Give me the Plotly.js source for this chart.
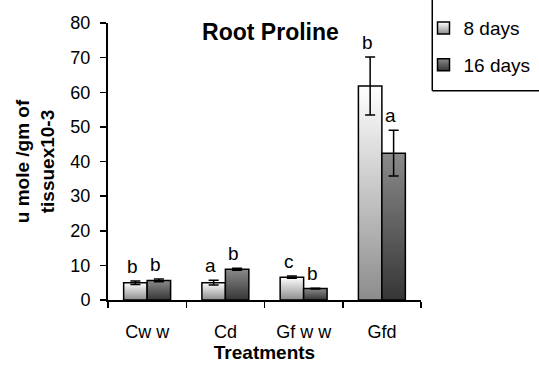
<!DOCTYPE html>
<html>
<head>
<meta charset="utf-8">
<script src="https://cdn.plot.ly/plotly-3.0.1.min.js"></script>
<style>html,body{margin:0;padding:0;background:#fff}#chart{width:539px;height:366px}</style>
</head>
<body>
<div id="chart"></div>
<script>
const categories = ["Cw w", "Cd", "Gf w w", "Gfd"];
const days8 = [5.0, 5.0, 6.6, 61.8];
const days8Err = [0.5, 0.7, 0.3, 8.4];
const days16 = [5.65, 8.9, 3.3, 42.4];
const days16Err = [0.4, 0.3, 0.1, 6.6];
const letters8 = ["b", "a", "c", "b"];
const letters16 = ["b", "b", "b", "a"];
const seriesNames = ["8 days", "16 days"];

const FONT = "Arial, 'Liberation Sans', sans-serif";

const traces = [
  {type: "bar", name: seriesNames[0], x: categories, y: days8, legendgroup: "g1",
   marker: {color: "#d0d0d0", line: {color: "#000", width: 1.5}},
   error_y: {type: "data", array: days8Err, visible: true, color: "#000", thickness: 1.5, width: 5}},
  {type: "bar", name: seriesNames[1], x: categories, y: days16, legendgroup: "g2",
   marker: {color: "#5a5a5a", line: {color: "#000", width: 1.5}},
   error_y: {type: "data", array: days16Err, visible: true, color: "#000", thickness: 1.5, width: 5}}
];

const annotations = [];
[[days8, days8Err, letters8, -14.5], [days16, days16Err, letters16, 8.5]].forEach(([v, e, l, xs]) => {
  categories.forEach((c, j) => {
    annotations.push({x: c, y: v[j] + e[j], xref: "x", yref: "y", text: l[j], showarrow: false,
      xshift: xs, yshift: 2, yanchor: "bottom", font: {family: FONT, size: 19, color: "#000"}});
  });
});

const layout = {
  width: 539, height: 366,
  margin: {l: 108, r: 118, t: 23, b: 66, autoexpand: false},
  paper_bgcolor: "#fff", plot_bgcolor: "#fff",
  barmode: "group", bargap: 0.4, bargroupgap: 0,
  title: {text: "<b>Root Proline</b>", font: {family: FONT, size: 23, color: "#000"},
          xref: "paper", x: 0.519, xanchor: "center", yref: "container", y: 0.912, yanchor: "middle"},
  xaxis: {type: "category", showline: true, linecolor: "#000", linewidth: 2, ticks: "outside",
          tickson: "boundaries", ticklen: 6, tickwidth: 1.5, tickcolor: "#000", showgrid: false,
          ticklabelstandoff: 14, tickfont: {family: FONT, size: 18, color: "#000"},
          title: {text: "<b>Treatments</b>", font: {family: FONT, size: 19, color: "#000"}, standoff: 0}},
  yaxis: {range: [0, 80], dtick: 10, showline: true, linecolor: "#000", linewidth: 2, ticks: "outside",
          ticklen: 6, tickwidth: 1.5, tickcolor: "#000", showgrid: false, zeroline: false,
          ticklabelstandoff: 6,
          tickfont: {family: FONT, size: 18, color: "#000"},
          title: {text: "<b>u mole /gm of<br>tissuex10-3</b>", font: {family: FONT, size: 19, color: "#000"}, standoff: 11}},
  legend: {x: 1.008, xanchor: "left", y: 1.05, yanchor: "top", traceorder: "grouped", tracegroupgap: 9,
           font: {family: FONT, size: 19, color: "#000"}, bgcolor: "rgba(0,0,0,0)", borderwidth: 0},
  shapes: [
    {type: "line", xref: "paper", yref: "paper", x0: 1.036, x1: 1.036, y0: 0.7556, y1: 1.1, line: {color: "#000", width: 1.5}},
    {type: "line", xref: "paper", yref: "paper", x0: 1.036, x1: 1.4, y0: 0.7556, y1: 0.7556, line: {color: "#000", width: 1.5}}
  ],
  annotations: annotations
};

Plotly.newPlot("chart", traces, layout, {displayModeBar: false, staticPlot: true}).then(gd => {
  const svg = gd.querySelector(".main-svg");
  let defs = svg.querySelector("defs");
  const ns = "http://www.w3.org/2000/svg";
  function grad(id, top, bottom) {
    const g = document.createElementNS(ns, "linearGradient");
    g.setAttribute("id", id); g.setAttribute("x1", "0"); g.setAttribute("y1", "0");
    g.setAttribute("x2", "0"); g.setAttribute("y2", "1");
    [[0, top], [1, bottom]].forEach(([o, c]) => {
      const s = document.createElementNS(ns, "stop");
      s.setAttribute("offset", o); s.setAttribute("stop-color", c); g.appendChild(s);
    });
    defs.appendChild(g);
  }
  grad("grad8", "#ffffff", "#8c8c8c");
  grad("grad16", "#8a8a8a", "#363636");
  const ids = ["grad8", "grad16"];
  gd.querySelectorAll(".barlayer .trace").forEach((t, i) => {
    t.querySelectorAll(".point path").forEach(p => { p.style.fill = "url(#" + ids[i] + ")"; });
  });
  gd.querySelectorAll(".legend .traces").forEach((t, i) => {
    t.querySelectorAll(".legendpoints path").forEach(p => { p.style.fill = "url(#" + ids[i] + ")"; });
  });
});
</script>
</body>
</html>
